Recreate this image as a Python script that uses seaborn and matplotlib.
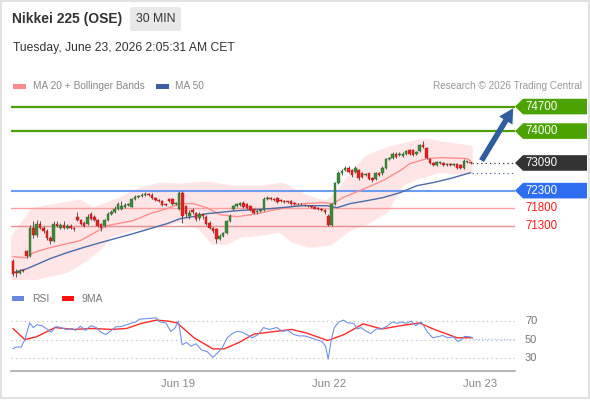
import numpy as np
import pandas as pd
import matplotlib
matplotlib.use("Agg")
import matplotlib.pyplot as plt
import seaborn as sns
from matplotlib.patches import Polygon, FancyBboxPatch, Rectangle, FancyArrowPatch
from matplotlib.transforms import IdentityTransform

# ---------------- data ----------------
candle_open = [70300, 69990, 69960, 70020, 70580, 70440, 71240, 71040, 71360, 71240,
               71160, 70960, 70870, 71360, 71240, 71330, 71240, 71300, 71240, 71560,
               71470, 71380, 71360, 71620, 71560, 71470, 71360, 71300, 71470, 71640,
               71700, 71790, 71790, 71840, 71900, 71840, 72070, 72130, 72160, 72190,
               72210, 72190, 72100, 72040, 72010, 71930, 72070, 72070, 71930, 71790,
               72240, 71870, 71590, 71760, 71670, 71530, 71620, 71560, 71390, 71240,
               71210, 70930, 71010, 71100, 71440, 71790, 71870, 71900, 71960, 71930,
               71870, 71790, 71700, 71730, 71760, 72070, 72100, 72070, 72100, 72040,
               72010, 71990, 72010, 71960, 71930, 71910, 71900, 71870, 71850, 71820,
               71790, 71780, 71760, 71590, 71330, 71930, 72530, 72790, 72900, 72950,
               72900, 72830, 72900, 72800, 72740, 72790, 72670, 72640, 72810, 72790,
               72960, 73210, 73240, 73360, 73330, 73300, 73360, 73470, 73470, 73360,
               73440, 73590, 73530, 73210, 73100, 73040, 73100, 73100, 73040, 73070,
               73040, 73070, 73040, 72960, 73130, 73130]
candle_high = [70360, 70070, 70070, 70040, 70620, 71330, 71440, 71470, 71420, 71300,
               71200, 71000, 71420, 71440, 71390, 71420, 71360, 71360, 71270, 71700,
               71500, 71420, 71620, 71680, 71600, 71500, 71390, 71500, 71700, 71760,
               71850, 71990, 72010, 71950, 71960, 72100, 72180, 72190, 72240, 72260,
               72240, 72240, 72130, 72070, 72040, 71960, 72100, 72100, 71990, 72300,
               72300, 71900, 71760, 71810, 71700, 71700, 71670, 71600, 71420, 71270,
               71240, 71070, 71130, 71470, 71620, 71900, 71960, 71990, 72010, 71960,
               71900, 71810, 71760, 71790, 72130, 72160, 72130, 72100, 72130, 72070,
               72040, 72010, 72040, 71990, 71950, 71940, 71930, 71900, 71880, 71850,
               71820, 71810, 71790, 71620, 71960, 72560, 72870, 72930, 73010, 72990,
               72930, 72990, 72930, 72840, 72800, 72810, 72700, 72840, 72840, 72990,
               73240, 73270, 73390, 73390, 73390, 73390, 73470, 73500, 73500, 73440,
               73620, 73730, 73560, 73240, 73130, 73160, 73160, 73130, 73100, 73100,
               73100, 73100, 73070, 73190, 73160, 73130]
candle_low = [69870, 69840, 69930, 69990, 70380, 70400, 70960, 70990, 71200, 71100,
              70900, 70780, 70840, 71260, 71200, 71200, 71200, 71200, 71140, 71440,
              71330, 71260, 71330, 71470, 71440, 71270, 71140, 71260, 71440, 71610,
              71670, 71760, 71760, 71810, 71870, 71820, 72040, 72100, 72130, 72160,
              72160, 72070, 72010, 71980, 71870, 71870, 71980, 71900, 71900, 71760,
              71390, 71560, 71500, 71640, 71440, 71470, 71500, 71330, 71200, 71100,
              70810, 70900, 70980, 71070, 71410, 71760, 71840, 71870, 71810, 71790,
              71730, 71640, 71640, 71700, 71730, 72040, 72040, 72010, 71960, 71990,
              71960, 71960, 71900, 71900, 71890, 71880, 71860, 71830, 71800, 71770,
              71750, 71730, 71640, 71300, 71300, 71900, 72500, 72760, 72870, 72800,
              72700, 72800, 72600, 72660, 72710, 72600, 72560, 72610, 72730, 72760,
              72930, 73180, 73210, 73240, 73300, 73270, 73330, 73330, 73300, 73330,
              73410, 73530, 73200, 73070, 73000, 72990, 73070, 73010, 73010, 72990,
              73010, 72930, 72930, 72930, 73100, 73070]
candle_close = [69930, 69960, 70020, 70010, 70440, 71240, 71040, 71360, 71240, 71160,
                70960, 70870, 71360, 71300, 71330, 71240, 71300, 71240, 71210, 71470,
                71360, 71300, 71560, 71500, 71470, 71300, 71240, 71470, 71640, 71700,
                71790, 71930, 71870, 71900, 71930, 72070, 72130, 72160, 72190, 72210,
                72190, 72100, 72040, 72010, 71900, 71900, 72010, 71930, 71960, 72240,
                71590, 71640, 71670, 71700, 71500, 71620, 71590, 71360, 71240, 71160,
                70930, 71010, 71100, 71440, 71590, 71870, 71930, 71960, 71840, 71810,
                71760, 71670, 71730, 71760, 72070, 72100, 72070, 72040, 71980, 72010,
                71990, 71980, 71930, 71930, 71910, 71920, 71880, 71850, 71820, 71790,
                71780, 71760, 71680, 71330, 71930, 72530, 72810, 72870, 72950, 72830,
                72740, 72940, 72660, 72700, 72770, 72640, 72590, 72810, 72760, 72960,
                73210, 73240, 73360, 73270, 73340, 73360, 73440, 73360, 73330, 73410,
                73590, 73560, 73240, 73100, 73040, 73130, 73130, 73040, 73070, 73020,
                73070, 72960, 72960, 73160, 73130, 73090]

# Bollinger bands (candle index, price)
bb_upper_idx = [0, 5.9, 19.8, 23.6, 30.7, 37.5, 43.4, 49.3, 57.2, 64.9, 72.9, 79.6,
                85.5, 89.7, 92.6, 95.6, 99.4, 104.4, 111.2, 117.1, 122.1, 126, 131, 135]
bb_upper_val = [70957, 71757, 71986, 71757, 72014, 72329, 72471, 72443, 72500, 72386,
                72386, 72471, 72157, 72014, 71957, 72214, 72700, 73243, 73500, 73643,
                73729, 73643, 73586, 73529]
bb_lower_idx = [0, 5.9, 15.9, 21.8, 25.7, 28.6, 35.4, 42.5, 49.3, 55.2, 59, 63.1, 67,
                72.9, 78.8, 82.6, 87.6, 93.5, 99.4, 104.4, 110.3, 113.3, 115, 119.2,
                126, 131.9, 135]
bb_lower_val = [69786, 69786, 70014, 70357, 70672, 71014, 71214, 71300, 71443, 71243,
                70814, 70814, 71014, 71071, 71157, 70871, 70729, 70786, 71214, 71386,
                71729, 72300, 72500, 72671, 72871, 72814, 72814]

# MA 20 and MA 50
ma20_idx = [0, 4.1, 5.9, 10.9, 15.9, 19.8, 23.6, 27.7, 35.4, 40.4, 45.4, 49.3, 53.1,
            57.2, 61.1, 66.1, 72, 75.8, 80.8, 85.5, 91.4, 94.4, 97.3, 104.4, 109.1,
            114.2, 117.1, 122.1, 126.8, 133.9, 135]
ma20_val = [70414, 70386, 70529, 70672, 70786, 70871, 71072, 71300, 71443, 71643,
            71786, 71929, 71929, 71814, 71614, 71557, 71643, 71729, 71814, 71929,
            71957, 71929, 72100, 72386, 72586, 72871, 73071, 73214, 73243, 73214, 73157]
ma50_idx = [0, 4.1, 10.9, 15.9, 20.6, 25.7, 35.4, 45.4, 49.3, 53.1, 57.2, 66.1, 75.8,
            85.5, 92.6, 95.6, 99.4, 104.4, 109.1, 114.2, 119.2, 123.9, 128.9, 135]
ma50_val = [69957, 70071, 70357, 70529, 70672, 70814, 71072, 71357, 71500, 71557,
            71643, 71729, 71786, 71871, 71871, 71814, 71929, 72014, 72100, 72243,
            72443, 72529, 72643, 72814]

# RSI and its 9-period MA
rsi_idx = [0, 0.8, 2.4, 3.5, 4.9, 6, 7.1, 8.5, 10.2, 11.3, 12.6, 14.1, 15.7, 17.4,
           18.5, 19.9, 21.3, 23, 24.6, 25.9, 27.4, 29, 30.4, 31.8, 33.5, 35.1, 36.2,
           37.3, 39, 40.7, 42.3, 43.4, 45.1, 46.5, 47.7, 48.8, 49.9, 51.2, 52.5, 54,
           55.6, 57.3, 59, 60.3, 61.7, 63.2, 64.7, 66.2, 67.6, 68.9, 70.6, 72.3, 73.9,
           75.6, 77.8, 79.5, 81.1, 82.8, 84.4, 86.1, 87.8, 89.4, 91.1, 92.2, 93, 93.9,
           94.8, 96.1, 97.5, 98.8, 100.5, 101.6, 102.7, 103.8, 105.5, 107.2, 108.8,
           110.5, 111.9, 113.3, 114.6, 116, 117.5, 118.8, 120.5, 122.1, 123.8, 125.2,
           126.8, 128.2, 129.9, 131.2, 132.3, 133.2, 134.9, 135.5]
rsi_val = [40, 42, 42, 50, 68, 63, 66, 65, 61, 58, 64, 63, 61, 62, 60, 64.5, 60, 65,
           63, 58, 55.5, 60, 64, 64, 66, 68, 69, 72, 72.5, 73, 73.5, 69, 68, 59, 62, 70,
           44.5, 47, 43, 45.5, 39, 37, 31, 35.5, 41, 52, 56.5, 59, 58, 55.5, 52, 55.5,
           63, 61, 63, 59, 60, 55.5, 54, 54, 52, 50, 48, 43, 29, 50, 63, 69, 71, 68,
           67.5, 61.5, 63, 60, 56.5, 61.5, 61.5, 65, 69, 67.5, 69, 67.5, 70, 65, 69,
           59, 52, 53, 54.5, 52, 53, 48, 50, 53.5, 53, 52]
rsi_ma_idx = [0, 3.5, 6.9, 10.2, 12.4, 18, 23.5, 29, 33.5, 37.9, 42.3, 45.7, 48.4,
              53.4, 59, 62.3, 66.7, 71.1, 75.6, 82.2, 86.7, 92.8, 97.7, 103.3, 108.8,
              114.4, 119.9, 124.3, 131, 135.5]
rsi_ma_val = [62, 50, 53, 59, 63, 61, 62, 61, 62, 67.5, 71, 70, 68, 52, 40, 40, 47, 56,
              58, 61, 57, 49, 55.5, 67, 61.5, 65, 68, 61, 52, 52]
rsi_levels = [70, 50, 30]

# key levels
resist_levels = [74700, 74000]
pivot_level = 72300
support_levels = [71800, 71300]
last_price = 73090
target_price = 74700

tick_pos = [48.7, 93.2, 137.8]
tick_labels = ["Jun 19", "Jun 22", "Jun 23"]

# ---------------- style ----------------
sns.set_style("white")
plt.rcParams['font.family'] = ['Liberation Sans', 'DejaVu Sans']

W, H = 590, 400
fig = plt.figure(figsize=(W / 100, H / 100), dpi=100)
fig.patch.set_facecolor("white")

def fx(px):
    return px / W

def fy(py):
    return 1 - py / H

XL = (-0.59, 148.1)

# price panel: pixel rows 95..280
ax = fig.add_axes([fx(11), fy(280), fx(504), 185 / H])
ax.set_xlim(*XL)
ax.set_ylim(69750, 75030)
ax.axis("off")

GREEN_LINE = "#4c9f00"
BLUE_LINE = "#6c9bf2"

for lv in resist_levels:
    ax.axhline(lv, color=GREEN_LINE, lw=1.6, zorder=1)
ax.axhline(pivot_level, color=BLUE_LINE, lw=1.5, zorder=1)
ax.axhline(support_levels[0], color="#ffa0a0", lw=1.0, zorder=1)
ax.axhline(support_levels[1], color="#e89090", lw=1.0, zorder=1)

# Bollinger fill
bb_df_u = pd.DataFrame({"i": bb_upper_idx, "v": bb_upper_val})
bb_df_l = pd.DataFrame({"i": bb_lower_idx, "v": bb_lower_val})
poly = list(zip(bb_df_u["i"], bb_df_u["v"])) + list(zip(bb_df_l["i"][::-1], bb_df_l["v"][::-1]))
ax.add_patch(Polygon(poly, closed=True, facecolor="#ffe5e5", edgecolor="#ffe5e5",
                     lw=3, joinstyle="round", zorder=0.5))

# MA lines
sns.lineplot(x=ma20_idx, y=ma20_val, ax=ax, color="#ff8f8f", lw=1.0, estimator=None,
             sort=False, zorder=2)
sns.lineplot(x=ma50_idx, y=ma50_val, ax=ax, color="#4a6aa8", lw=1.0, estimator=None,
             sort=False, zorder=2)

# candles
o = np.array(candle_open, float)
c = np.array(candle_close, float)
hi = np.array(candle_high, float)
lo = np.array(candle_low, float)
idx = np.arange(len(c))
up = c >= o
ax.vlines(idx, lo, hi, color="#555555", lw=0.7, zorder=3)
body = np.maximum(np.abs(c - o), 20)
ax.bar(idx, body, bottom=np.minimum(o, c) - (body - np.abs(c - o)) / 2, width=0.76,
       color=np.where(up, "#3a8a3a", "#e32222"), edgecolor=np.where(up, "#2a6a2a", "#b01818"),
       lw=0.3, zorder=4)

# dotted continuation lines
last_i = idx[-1] + 0.5
ax.plot([last_i, XL[1]], [last_price, last_price], ls=(0, (1, 2.5)), color="#333333", lw=0.9, zorder=2)
ax.plot([last_i, XL[1]], [ma50_val[-1], ma50_val[-1]], ls=(0, (1, 2.5)), color="#4a6aa8", lw=0.9, zorder=2)

# arrow toward target
ax.add_patch(FancyArrowPatch((137.8, last_price), (148.0, target_price + 20),
                             arrowstyle="simple,head_width=1.25,head_length=1.15,tail_width=0.45",
                             mutation_scale=9, color="#2f5d9e", lw=0, zorder=5, clip_on=False))

# ---------------- right tags ----------------
fig.canvas.draw()

def ypix(price):
    return ax.transData.transform((0, price))[1]

def tag(price, color, text):
    y = ypix(price)
    h = 7.8
    verts = [(515, y), (523, y + h), (587, y + h), (587, y - h), (523, y - h)]
    fig.add_artist(Polygon(verts, closed=True, transform=IdentityTransform(),
                           facecolor=color, edgecolor=color, lw=0))
    fig.text(fx(525), y / H, text, color="white", fontsize=8.3, va="center", ha="left")

tag(resist_levels[0], "#4ca300", f"{resist_levels[0]}")
tag(resist_levels[1], "#4ca300", f"{resist_levels[1]}")
tag(last_price, "#333333", f"{last_price}")
tag(pivot_level, "#2e6cf0", f"{pivot_level}")
for lv in support_levels:
    fig.text(fx(525), ypix(lv) / H, f"{lv}", color="#ff1a1a", fontsize=8.3, va="center", ha="left")

# ---------------- RSI panel: pixel rows 305..370 ----------------
ax2 = fig.add_axes([fx(11), fy(371), fx(504), 66 / H])
ax2.set_xlim(*XL)
ax2.set_ylim(16.2, 87.3)
for s in ["top", "right", "left"]:
    ax2.spines[s].set_visible(False)
ax2.spines["bottom"].set_color("#aaaaaa")
ax2.spines["bottom"].set_linewidth(1.2)
ax2.set_yticks([])
for lv in rsi_levels:
    ax2.axhline(lv, color="#bbbbbb", lw=0.8, ls=(0, (1, 3)), zorder=1)
    fig.text(fx(525), ax2.transData.transform((0, lv))[1] / H, str(lv), color="#777777",
             fontsize=8, va="center", ha="left")

sns.lineplot(x=rsi_idx, y=rsi_val, ax=ax2, color="#7092e6", lw=0.8, estimator=None,
             sort=False, zorder=3)
sns.lineplot(x=rsi_ma_idx, y=rsi_ma_val, ax=ax2, color="#ff2a2a", lw=1.0, estimator=None,
             sort=False, zorder=2)
ax2.plot([rsi_idx[-1], XL[1]], [rsi_val[-1] - 1, rsi_val[-1] - 1], ls=(0, (1, 1.5)),
         color="#a9bdf0", lw=0.9, zorder=2)

ax2.set_xticks(tick_pos)
ax2.set_xticklabels(tick_labels, color="#888888", fontsize=8.2)
ax2.tick_params(axis="x", length=0, pad=6)
ax2.set_xticks([XL[0] + 0.1, XL[1] - 0.1], minor=True)
ax2.tick_params(axis="x", which="minor", length=6, width=1.2, color="#aaaaaa", direction="out")
ax2.set_xlabel("")
ax2.set_ylabel("")
ax.set_xlabel("")
ax.set_ylabel("")

# ---------------- header & legends ----------------
fig.text(fx(12), fy(19), "Nikkei 225 (OSE)", fontsize=10, fontweight="bold",
         color="#333333", va="center", ha="left")
fig.add_artist(FancyBboxPatch((fx(130), fy(31)), fx(51), 24 / H,
                              boxstyle="round,pad=0,rounding_size=0.004",
                              transform=fig.transFigure, facecolor="#e8e8e8", edgecolor="none"))
fig.text(fx(155.5), fy(19), "30 MIN", fontsize=8.8, color="#333333", va="center", ha="center")
fig.text(fx(13), fy(48), "Tuesday, June 23, 2026 2:05:31 AM CET", fontsize=8.7,
         color="#333333", va="center", ha="left")

fig.add_artist(Rectangle((fx(13), fy(89)), fx(13), 5 / H, transform=fig.transFigure,
                         facecolor="#ff8c8c", edgecolor="none"))
fig.text(fx(33), fy(86), "MA 20 + Bollinger Bands", fontsize=7.3, color="#888888",
         va="center", ha="left")
fig.add_artist(Rectangle((fx(156), fy(89)), fx(13), 5 / H, transform=fig.transFigure,
                         facecolor="#3d5f9f", edgecolor="none"))
fig.text(fx(175), fy(86), "MA 50", fontsize=7.3, color="#888888", va="center", ha="left")
fig.text(fx(582), fy(86), "Research \u00a9 2026 Trading Central", fontsize=7.2,
         color="#999999", va="center", ha="right")

fig.add_artist(Rectangle((fx(12), fy(301)), fx(12), 5 / H, transform=fig.transFigure,
                         facecolor="#6688dd", edgecolor="none"))
fig.text(fx(32), fy(299), "RSI", fontsize=7.5, color="#777777", va="center", ha="left")
fig.add_artist(Rectangle((fx(62), fy(301)), fx(12), 5 / H, transform=fig.transFigure,
                         facecolor="#ff1010", edgecolor="none"))
fig.text(fx(82), fy(299), "9MA", fontsize=7.5, color="#777777", va="center", ha="left")

# outer frame
fig.add_artist(Rectangle((fx(0.5), fy(398)), fx(588), 397.5 / H, transform=fig.transFigure,
                         facecolor="none", edgecolor="#e2e2e2", lw=1.5))

fig.savefig("out.png", dpi=100)
